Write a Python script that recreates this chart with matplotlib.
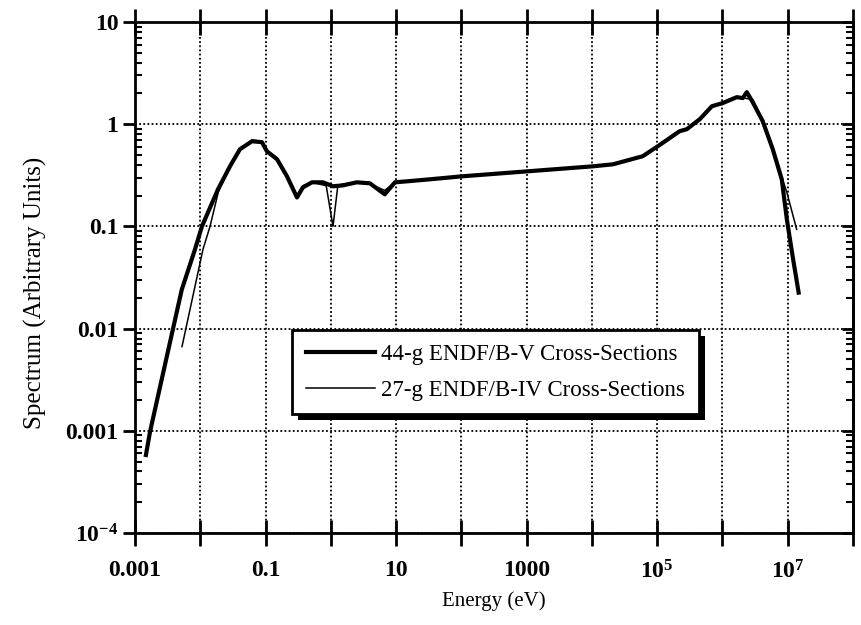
import matplotlib
matplotlib.use("Agg")
import matplotlib.pyplot as plt
from matplotlib.ticker import FixedLocator, FixedFormatter, LogLocator, NullFormatter
from matplotlib.patches import Rectangle
from matplotlib.transforms import IdentityTransform
import numpy as np

plt.rcParams['font.family'] = ['Liberation Serif', 'DejaVu Serif']
plt.rcParams['mathtext.fontset'] = 'custom'
plt.rcParams['mathtext.rm'] = 'Liberation Serif'
plt.rcParams['mathtext.bf'] = 'Liberation Serif:bold'

# 44-group ENDF/B-V spectrum
e44 = [1.47e-3, 1.7e-3, 3.8e-3, 5.2e-3, 8.3e-3, 0.0106, 0.0187, 0.0285, 0.0405, 0.062,
       0.088, 0.105, 0.150, 0.213, 0.303, 0.374, 0.514, 0.757, 1.08, 1.53, 2.5, 3.97,
       6.7, 9.6, 14.6, 33, 102, 1040, 1.03e4, 2.1e4, 6.0e4, 1.02e5, 2.2e5, 2.84e5,
       4.5e5, 6.9e5, 1.01e6, 1.66e6, 2.05e6, 2.36e6, 2.91e6, 4.14e6, 5.9e6, 8.1e6,
       9.7e6, 1.19e7, 1.47e7]
s44 = [5.8e-4, 9.8e-4, 0.0098, 0.024, 0.0596, 0.1, 0.231, 0.387, 0.569, 0.681,
       0.667, 0.543, 0.454, 0.309, 0.192, 0.241, 0.270, 0.270, 0.247, 0.252, 0.270, 0.264,
       0.206, 0.270, 0.276, 0.289, 0.309, 0.346, 0.387, 0.405, 0.486, 0.608, 0.853, 0.893,
       1.12, 1.50, 1.61, 1.84, 1.80, 2.06, 1.64, 1.07, 0.569, 0.289,
       0.117, 0.0508, 0.0225]

# 27-group ENDF/B-IV spectrum
e27 = [5.25e-3, 0.011, 0.0141, 0.019, 0.0285, 0.0405, 0.062, 0.088, 0.105, 0.150,
       0.213, 0.303, 0.374, 0.514, 0.85, 1.08, 1.28, 1.53, 2.5, 3.97, 6.7, 9.6, 14.6,
       33, 102, 1040, 1.03e4, 2.1e4, 6.0e4, 1.02e5, 2.2e5, 2.84e5, 4.5e5, 6.9e5,
       1.01e6, 1.66e6, 2.9e6, 4.14e6, 6.8e6, 9.7e6, 1.37e7]
s27 = [0.00667, 0.0596, 0.1, 0.22, 0.38, 0.56, 0.70, 0.68, 0.56, 0.46,
       0.31, 0.20, 0.25, 0.27, 0.25, 0.10, 0.25, 0.26, 0.27, 0.26, 0.225, 0.27, 0.276,
       0.289, 0.309, 0.346, 0.387, 0.405, 0.486, 0.608, 0.853, 0.893, 1.12, 1.50,
       1.61, 1.84, 1.75, 1.10, 0.424, 0.215, 0.0935]

x_ticks = [1e-3, 1e-2, 1e-1, 1, 10, 100, 1e3, 1e4, 1e5, 1e6, 1e7, 1e8]
x_labels = ['0.001', '', '0.1', '', '10', '', '1000', '', r'$\mathbf{10^{5}}$', '', r'$\mathbf{10^{7}}$', '']
y_ticks = [1e-4, 1e-3, 1e-2, 1e-1, 1, 10]
y_labels = [r'$\mathbf{10^{-4}}$', '0.001', '0.01', '0.1', '1', '10']

fig = plt.figure(figsize=(8.61, 6.25), dpi=100)
ax = fig.add_axes([135/861, 1 - 533/625, (853 - 135)/861, (533 - 22)/625])

ax.plot(e44, s44, color='black', lw=3.0, solid_joinstyle='round', label='44-g ENDF/B-V Cross-Sections', zorder=3)
ax.plot(e27, s27, color='black', lw=1.1, label='27-g ENDF/B-IV Cross-Sections', zorder=3)

ax.set_xscale('log')
ax.set_yscale('log')
ax.set_xlim(1e-3, 1e8)
ax.set_ylim(1e-4, 10)

ax.xaxis.set_major_locator(FixedLocator(x_ticks))
ax.xaxis.set_major_formatter(FixedFormatter(x_labels))
ax.xaxis.set_minor_locator(FixedLocator([]))
ax.yaxis.set_major_locator(FixedLocator(y_ticks))
ax.yaxis.set_major_formatter(FixedFormatter(y_labels))
ax.yaxis.set_minor_locator(LogLocator(base=10, subs=np.arange(2, 10)))
ax.yaxis.set_minor_formatter(NullFormatter())

ax.grid(True, which='major', color='black', linestyle=(0, (1, 1.3)), lw=1.3)
for s in ax.spines.values():
    s.set_linewidth(2.0)

ax.tick_params(axis='x', which='major', direction='inout', length=19, width=2, top=True,
               bottom=True, labelsize=17, pad=10)
ax.tick_params(axis='y', which='major', direction='out', length=9, width=2, labelsize=17,
               left=True, right=False, pad=3)
ax.tick_params(axis='y', which='minor', direction='in', length=5, width=1.5, left=True, right=True)
for lab in ax.get_xticklabels() + ax.get_yticklabels():
    lab.set_fontweight('bold')

# right-side major ticks pointing inward
ax2 = ax.secondary_yaxis('right')
ax2.yaxis.set_major_locator(FixedLocator(y_ticks))
ax2.yaxis.set_minor_locator(FixedLocator([]))
ax2.tick_params(axis='y', which='major', direction='in', length=8, width=2, labelright=False)
ax2.spines['right'].set_linewidth(2.0)

ax.set_xlabel('Energy (eV)', fontsize=15, labelpad=6)
ax.set_ylabel('Spectrum (Arbitrary Units)', fontsize=18, labelpad=14)
ax.yaxis.set_label_coords(-0.122, 0.47)

leg = ax.legend(loc='upper left', bbox_to_anchor=(292/861, 1 - 330/625),
                bbox_transform=fig.transFigure, fontsize=16.5, frameon=True, fancybox=False,
                framealpha=1.0, handlelength=3.0, handletextpad=0.3, borderpad=0.6,
                labelspacing=0.65, borderaxespad=0)
leg.get_frame().set_edgecolor('black')
leg.get_frame().set_linewidth(2.0)
leg.get_frame().set_facecolor('white')
leg.set_zorder(10)

fig.canvas.draw()
bb = leg.get_window_extent()
off = 6
shadow = Rectangle((bb.x0 + off, bb.y0 - off), bb.width, bb.height,
                   transform=IdentityTransform(), facecolor='black', edgecolor='none',
                   zorder=9, clip_on=False)
ax.add_artist(shadow)

fig.savefig('out.png', dpi=100)
